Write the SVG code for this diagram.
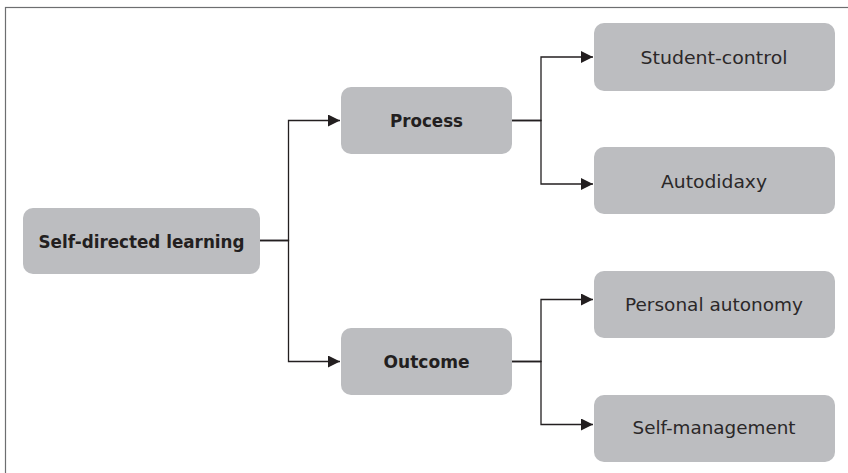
<svg xmlns="http://www.w3.org/2000/svg" width="848" height="473" viewBox="0 0 848 473">
<style>
.box{fill:#bcbdc0;}
.t{font-family:"DejaVu Sans","Liberation Sans",sans-serif;font-size:17px;fill:#2b2829;text-anchor:middle;}
.b{font-weight:bold;fill:#231f20;}
.c{fill:none;stroke:#231f20;stroke-width:1.3;}
</style>
<defs>
<marker id="ah" markerUnits="userSpaceOnUse" markerWidth="12" markerHeight="12" refX="12" refY="6" orient="auto">
<path d="M0,0 L12,6 L0,12 z" fill="#231f20"/>
</marker>
</defs>
<rect x="5.5" y="7.5" width="900" height="500" fill="#fff" stroke="#6d6e70" stroke-width="1.2"/>
<g id="connectors">
<path class="c" d="M260,240.5 H288.5 V120.5 H340" marker-end="url(#ah)"/>
<path class="c" d="M260,240.5 H288.5 V361.5 H340" marker-end="url(#ah)"/>
<path class="c" d="M512,120.5 H541 V57 H593" marker-end="url(#ah)"/>
<path class="c" d="M512,120.5 H541 V184 H593" marker-end="url(#ah)"/>
<path class="c" d="M512,361.5 H541 V299.5 H593" marker-end="url(#ah)"/>
<path class="c" d="M512,361.5 H541 V424.5 H593" marker-end="url(#ah)"/>
</g>
<g id="self-directed-learning">
<rect class="box" x="23" y="208" width="237" height="66" rx="10"/>
<text class="t b" x="141.5" y="247.5" textLength="206" lengthAdjust="spacingAndGlyphs">Self-directed learning</text>
</g>
<g id="process">
<rect class="box" x="341" y="87" width="171" height="67" rx="10"/>
<text class="t b" x="426.5" y="127" textLength="73" lengthAdjust="spacingAndGlyphs">Process</text>
</g>
<g id="outcome">
<rect class="box" x="341" y="328" width="171" height="67" rx="10"/>
<text class="t b" x="426.5" y="368" textLength="86" lengthAdjust="spacingAndGlyphs">Outcome</text>
</g>
<g id="student-control">
<rect class="box" x="594" y="23" width="241" height="68" rx="10"/>
<text class="t" x="714" y="63.5" textLength="147" lengthAdjust="spacingAndGlyphs">Student-control</text>
</g>
<g id="autodidaxy">
<rect class="box" x="594" y="147" width="241" height="67" rx="10"/>
<text class="t" x="714" y="188" textLength="106" lengthAdjust="spacingAndGlyphs">Autodidaxy</text>
</g>
<g id="personal-autonomy">
<rect class="box" x="594" y="271" width="241" height="67" rx="10"/>
<text class="t" x="714" y="310.5" textLength="178" lengthAdjust="spacingAndGlyphs">Personal autonomy</text>
</g>
<g id="self-management">
<rect class="box" x="594" y="395" width="241" height="67" rx="10"/>
<text class="t" x="714" y="433.5" textLength="163" lengthAdjust="spacingAndGlyphs">Self-management</text>
</g>
</svg>
